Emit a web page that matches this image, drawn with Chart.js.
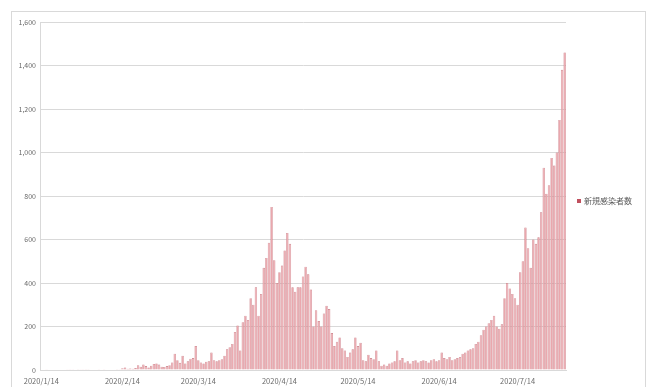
<!DOCTYPE html>
<html>
<head>
<meta charset="utf-8">
<script src="https://cdn.jsdelivr.net/npm/chart.js@4/dist/chart.umd.min.js"></script>
<style>
  html, body { margin: 0; padding: 0; background: #fff; }
  #wrap { position: relative; width: 651px; height: 387px; }
</style>
</head>
<body>
<div id="wrap"><canvas id="c" width="651" height="387"></canvas></div>
<script>
// Daily new cases, 2020/1/14 – 2020/8/1, grouped by month
const janCases = [0,0,1,0,0,0,0,0,0,0,1,1,1,0,3,1,4,3];                     // 1/14–1/31
const febCases = [3,2,0,2,1,0,1,2,0,2,0,3,4,8,11,6,7,6,9,22,15,25,18,12,20,28,30,25,15];
const marCases = [14,18,22,35,75,45,33,65,30,40,52,55,110,45,
                  35,30,38,40,80,45,40,45,50,65,95,105,120,175,205,90,220];
const aprCases = [250,230,330,300,380,250,350,470,515,585,750,505,400,450,480,
                  550,630,580,380,360,380,380,430,475,440,370,200,275,225,200];
const mayCases = [260,295,280,170,110,130,150,100,90,60,80,95,150,110,125,45,
                  40,70,55,50,90,40,20,25,20,30,35,40,90,45,55];
const junCases = [35,40,30,40,45,35,40,45,40,35,45,50,40,45,80,55,50,60,45,50,
                  55,60,75,80,90,95,100,120,130,160];
const julCases = [185,200,215,230,250,200,190,210,330,400,375,350,330,300,450,
                  500,655,560,470,600,580,610,725,930,810,850,975,940,1000,1150,1380];
const augCases = [1460];                                                       // 8/1

const newCases = [].concat(janCases, febCases, marCases, aprCases, mayCases, junCases, julCases, augCases);

// Axis labels shown on the date axis
const tickLabels = ['2020/1/14','2020/2/14','2020/3/14','2020/4/14','2020/5/14','2020/6/14','2020/7/14'];
const seriesName = '新規感染者数';

// One category per day starting 2020/1/14
const dates = [];
for (let i = 0; i < newCases.length; i++) {
  const d = new Date(2020, 0, 14 + i);
  dates.push(d.getFullYear() + '/' + (d.getMonth() + 1) + '/' + d.getDate());
}

const FONT = '"Noto Sans CJK JP", "Noto Sans", sans-serif';
const BAR_FILL = '#eaa7ad';
const BAR_EDGE = '#c97a83';

// Chart frame and right-hand legend
const framePlugin = {
  id: 'frame',
  beforeDraw(chart) {
    const ctx = chart.ctx;
    ctx.save();
    ctx.fillStyle = '#fff';
    ctx.fillRect(0, 0, chart.width, chart.height);
    ctx.strokeStyle = '#d9d9d9';
    ctx.lineWidth = 1;
    ctx.strokeRect(11.5, 11.5, 634, 390);
    ctx.restore();
  },
  afterDraw(chart) {
    const ctx = chart.ctx;
    ctx.save();
    ctx.fillStyle = '#c0505e';
    ctx.fillRect(577, 199, 4, 4);
    ctx.fillStyle = '#595959';
    ctx.font = '8px ' + FONT;
    ctx.textBaseline = 'middle';
    ctx.fillText(seriesName, 584, 201);
    ctx.restore();
  }
};

new Chart(document.getElementById('c'), {
  type: 'bar',
  data: {
    labels: dates,
    datasets: [{
      label: seriesName,
      data: newCases,
      backgroundColor: BAR_FILL,
      borderColor: BAR_EDGE,
      borderWidth: 0.6,
      barPercentage: 0.92,
      categoryPercentage: 1.0
    }]
  },
  options: {
    responsive: false,
    animation: false,
    layout: { padding: { top: 22, right: 85, left: 0, bottom: 0 } },
    plugins: {
      legend: { display: false },
      tooltip: { enabled: false }
    },
    scales: {
      x: {
        grid: { display: false, drawTicks: false },
        border: { display: true, color: '#d9d9d9', width: 1 },
        ticks: {
          autoSkip: false,
          maxRotation: 0,
          minRotation: 0,
          padding: 7,
          color: '#6a6a6a',
          font: { family: FONT, size: 7.5 },
          callback(value) {
            const lab = this.getLabelForValue(value);
            return tickLabels.includes(lab) ? lab : '';
          }
        },
        afterFit(scale) { scale.height = 17; }
      },
      y: {
        min: 0,
        max: 1600,
        grid: { color: '#d9d9d9', lineWidth: 1, drawTicks: false },
        border: { display: true, color: '#d9d9d9' },
        ticks: {
          stepSize: 200,
          padding: 4,
          color: '#6a6a6a',
          font: { family: FONT, size: 7 },
          callback: v => v.toLocaleString('en-US')
        },
        afterFit(scale) { scale.width = 40; }
      }
    }
  },
  plugins: [framePlugin]
});
</script>
</body>
</html>
